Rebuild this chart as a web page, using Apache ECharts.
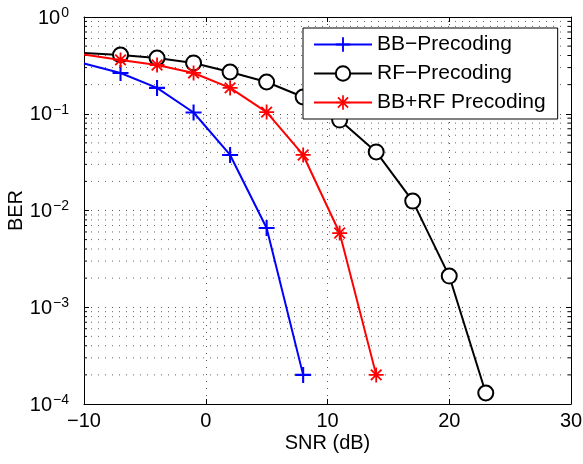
<html>
<head>
<meta charset="utf-8">
<script src="https://cdn.jsdelivr.net/npm/echarts@6/dist/echarts.min.js"></script>
<style>
  html, body { margin: 0; padding: 0; background: #fff; }
  #main { width: 583px; height: 464px; }
</style>
</head>
<body>
<div id="main"></div>
<script type="text/javascript">
// SNR points (dB), first one is where the curves enter the axes (no marker)
var snr = [-10, -7, -4, -1, 2, 5, 8, 11, 14, 17, 20, 23];
var berBB = [0.33, 0.264, 0.185, 0.103, 0.0375, 0.0066, 0.0002];
var berRF = [0.425, 0.405, 0.377, 0.335, 0.270, 0.213, 0.149, 0.086, 0.0403, 0.0125, 0.0021, 0.00013];
var berHybrid = [0.41, 0.36, 0.319, 0.264, 0.185, 0.104, 0.0375, 0.00585, 0.0002];
var seriesNames = ['BB\u2212Precoding', 'RF\u2212Precoding', 'BB+RF Precoding'];
var decades = [0.0001, 0.001, 0.01, 0.1];
var minorSteps = [2, 3, 4, 5, 6, 7, 8, 9];

var FONT = 'Liberation Sans, Arial, Helvetica, sans-serif';

// plus / asterisk marker shapes
var plusPath = 'path://M-1,-0.13H1V0.13H-1Z M-0.13,-1H0.13V1H-0.13Z';
var starPath = 'path://M-1,-0.12H1V0.12H-1Z M-0.12,-1H0.12V1H-0.12Z ' +
  'M-0.792,-0.622L-0.622,-0.792L0.792,0.622L0.622,0.792Z ' +
  'M-0.792,0.622L0.622,-0.792L0.792,-0.622L-0.622,0.792Z';

function toPoints(vals) {
  var out = [];
  for (var i = 0; i < vals.length; i++) {
    var item = { value: [snr[i], vals[i]] };
    if (i === 0) item.symbol = 'none';
    out.push(item);
  }
  return out;
}

var minorVals = [];
decades.forEach(function (d) {
  minorSteps.forEach(function (m) { minorVals.push([-10, +(d * m).toPrecision(3)]); });
});

function expLabel(v) {
  var e = Math.round(Math.log(v) / Math.LN10);
  var s = e < 0 ? '\u2212' + (-e) : '' + e;
  return '{b|10}{s|' + s + '}';
}

var myChart = echarts.init(document.getElementById('main'));
var option = {
  animation: false,
  backgroundColor: '#fff',
  grid: { left: 84, right: 12, top: 17, bottom: 60, containLabel: false, outerBoundsMode: 'none' },
  legend: {
    orient: 'vertical',
    left: 303,
    top: 28,
    data: seriesNames,
    backgroundColor: '#fff',
    borderColor: '#000',
    borderWidth: 1,
    borderRadius: 0,
    padding: [6, 12, 6, 10],
    itemWidth: 58,
    itemHeight: 18,
    itemGap: 8,
    lineStyle: { width: 2 },
    textStyle: { fontFamily: FONT, fontSize: 21, color: '#000' }
  },
  xAxis: [{
    type: 'value',
    min: -10, max: 30, interval: 10,
    name: 'SNR (dB)',
    nameLocation: 'middle',
    nameGap: 29,
    nameMoveOverlap: false,
    nameTextStyle: { fontFamily: FONT, fontSize: 20, color: '#000' },
    axisLine: { onZero: false, lineStyle: { color: '#000', width: 1 } },
    axisTick: { inside: true, length: 5, lineStyle: { color: '#000' } },
    axisLabel: {
      fontFamily: FONT, fontSize: 20, color: '#000', margin: 7,
      formatter: function (v) { return v < 0 ? '\u2212' + (-v) : '' + v; }
    },
    splitLine: { show: true, lineStyle: { color: '#555', type: [1, 6], width: 1 } }
  }, {
    type: 'value', position: 'top',
    min: -10, max: 30, interval: 10,
    axisLine: { show: true, onZero: false, lineStyle: { color: '#000', width: 1 } },
    axisTick: { show: true, inside: true, length: 5, lineStyle: { color: '#000' } },
    axisLabel: { show: false },
    splitLine: { show: false }
  }],
  yAxis: [{
    type: 'log', logBase: 10,
    min: 0.0001, max: 1,
    name: 'BER',
    nameLocation: 'middle',
    nameGap: 58,
    nameMoveOverlap: false,
    nameTextStyle: { fontFamily: FONT, fontSize: 20, color: '#000' },
    axisLine: { show: true, onZero: false, lineStyle: { color: '#000', width: 1 } },
    axisTick: { show: true, inside: true, length: 5, lineStyle: { color: '#000' } },
    axisLabel: {
      margin: 15,
      formatter: expLabel,
      rich: {
        b: { fontFamily: FONT, fontSize: 20, color: '#000', lineHeight: 22, verticalAlign: 'bottom' },
        s: { fontFamily: FONT, fontSize: 14, color: '#000', lineHeight: 14, verticalAlign: 'top', padding: [0, 0, 12, 1] }
      }
    },
    splitLine: { show: true, lineStyle: { color: '#555', type: [1, 6], width: 1 } }
  }, {
    type: 'log', logBase: 10, position: 'right',
    min: 0.0001, max: 1,
    axisLine: { show: true, onZero: false, lineStyle: { color: '#000', width: 1 } },
    axisTick: { show: true, inside: true, length: 5, lineStyle: { color: '#000' } },
    axisLabel: { show: false },
    splitLine: { show: false }
  }],
  series: [{
    // minor log grid + minor ticks on both sides
    type: 'custom',
    silent: true,
    z: 1,
    data: minorVals,
    renderItem: function (params, api) {
      var y = api.coord([api.value(0), api.value(1)])[1];
      var cs = params.coordSys;
      var l = cs.x, r = cs.x + cs.width;
      return {
        type: 'group',
        children: [
          { type: 'line', shape: { x1: l, y1: y, x2: r, y2: y }, style: { stroke: '#666', lineWidth: 1, lineDash: [1, 6] } },
          { type: 'line', shape: { x1: l, y1: y, x2: l + 3, y2: y }, style: { stroke: '#000', lineWidth: 1 } },
          { type: 'line', shape: { x1: r - 3, y1: y, x2: r, y2: y }, style: { stroke: '#000', lineWidth: 1 } }
        ]
      };
    }
  }, {
    name: seriesNames[0],
    type: 'line',
    z: 4,
    data: toPoints(berBB),
    symbol: plusPath,
    symbolSize: 16,
    symbolKeepAspect: true,
    lineStyle: { color: '#0000ff', width: 2 },
    itemStyle: { color: '#0000ff' }
  }, {
    name: seriesNames[1],
    type: 'line',
    z: 3,
    data: toPoints(berRF),
    symbol: 'emptyCircle',
    symbolSize: 15,
    showAllSymbol: true,
    lineStyle: { color: '#000', width: 2 },
    itemStyle: { color: '#000', borderColor: '#000', borderWidth: 2 }
  }, {
    name: seriesNames[2],
    type: 'line',
    z: 5,
    data: toPoints(berHybrid),
    symbol: starPath,
    symbolSize: 15,
    symbolKeepAspect: true,
    lineStyle: { color: '#ff0000', width: 2 },
    itemStyle: { color: '#ff0000' }
  }]
};
myChart.setOption(option);
</script>
</body>
</html>
